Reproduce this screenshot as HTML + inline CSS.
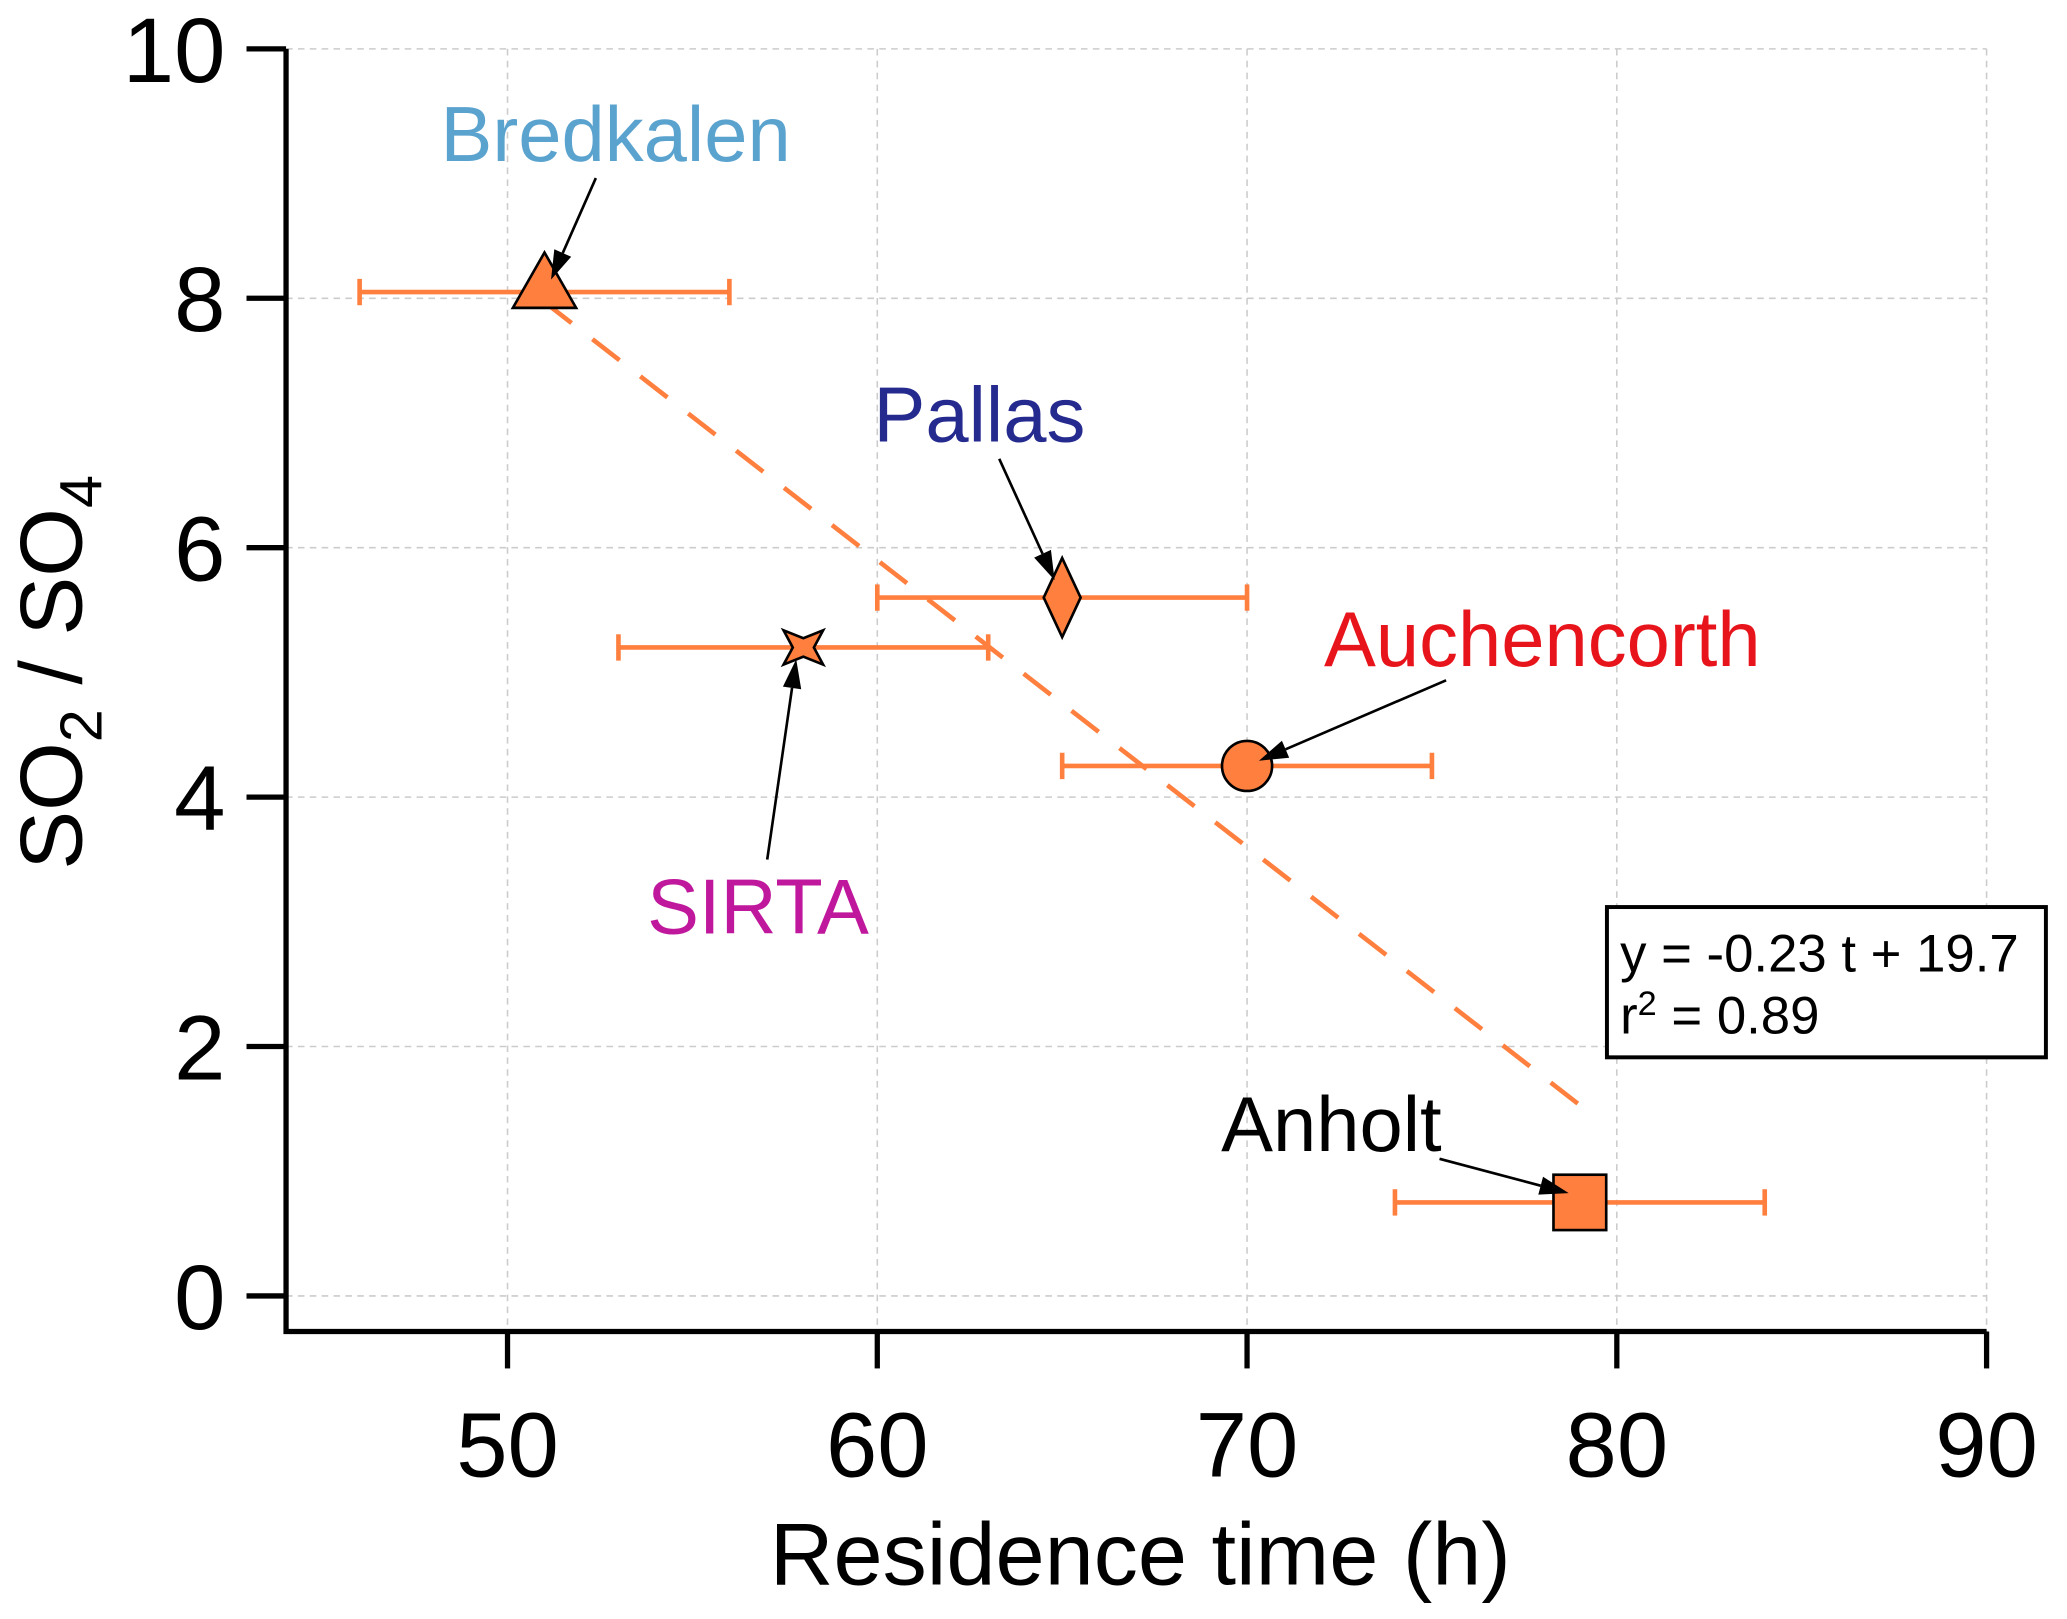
<!DOCTYPE html>
<html><head><meta charset="utf-8"><style>html,body{margin:0;padding:0;background:#fff}svg{display:block}</style></head>
<body>
<svg id="chart" width="2067" height="1619" viewBox="0 0 1568 1228" xmlns="http://www.w3.org/2000/svg" font-family="Liberation Sans, Arial, sans-serif"></svg>
<script>
const sites = ["Bredkalen","Pallas","SIRTA","Auchencorth","Anholt"];
const times = [51,65,58,70,79];
const ratios = [8.05,5.6,5.2,4.25,0.75];
const errLo = [46,60,53,65,74];
const errHi = [56,70,63,75,84];
const markers = ["triangle","diamond","star","circle","square"];
const labelColors = ["#5BA3CF","#252A8F","#C0189D","#E8141B","#000000"];
const xTicks = [50,60,70,80,90];
const yTicks = [0,2,4,6,8,10];
const fitSlope = -0.23, fitIntercept = 19.7, fitStart = 51, fitEnd = 79;

const NS="http://www.w3.org/2000/svg";
const svg=document.getElementById('chart');
const X0=217, XR=1507, YB=1010, YT=37;
const sx=v=>385+(v-50)*(1507-385)/40;
const sy=v=>983-v*(983-37)/10;
function el(tag,attrs,parent){const e=document.createElementNS(NS,tag);for(const k in attrs)e.setAttribute(k,attrs[k]);(parent||svg).appendChild(e);return e;}
const OR="#FF7F3F";

for(const t of xTicks){const g=el('line',{x1:sx(t),x2:sx(t),y1:YT,y2:YB,stroke:'#ccc','stroke-width':1.2,'stroke-dasharray':'5,4'});

}
for(const t of yTicks){const g=el('line',{x1:X0,x2:XR,y1:sy(t),y2:sy(t),stroke:'#ccc','stroke-width':1.2,'stroke-dasharray':'5,4'});

}

const ax=el('path',{d:`M${X0},${YT} L${X0},${YB} L${XR},${YB}`,fill:'none',stroke:'#000','stroke-width':4});


for(const t of xTicks){
 const tk=el('line',{x1:sx(t),x2:sx(t),y1:YB,y2:YB+28,stroke:'#000','stroke-width':4});
 
 
 const tx=el('text',{x:sx(t),y:1120,'font-size':70,'text-anchor':'middle'});tx.textContent=t;
 
 
}
for(const t of yTicks){
 const tk=el('line',{x1:X0-30,x2:X0,y1:sy(t),y2:sy(t),stroke:'#000','stroke-width':4});
 
 
 const tx=el('text',{x:X0-46,y:sy(t)+25,'font-size':70,'text-anchor':'end'});tx.textContent=t;
 
 
}
const xt=el('text',{x:865,y:1202,'font-size':67,'text-anchor':'middle'});xt.textContent='Residence time (h)';


const yt=el('text',{transform:'translate(62,510) rotate(-90)','font-size':67,'text-anchor':'middle'});
yt.innerHTML='SO<tspan font-size="45" dy="15">2</tspan><tspan dy="-15"> / SO</tspan><tspan font-size="45" dy="15">4</tspan>';



const fl=el('line',{x1:sx(fitStart),y1:sy(fitSlope*fitStart+fitIntercept),x2:sx(fitEnd),y2:sy(fitSlope*fitEnd+fitIntercept),stroke:OR,'stroke-width':3.5,'stroke-dasharray':'26,20'});



sites.forEach((s,i)=>{
 const y=sy(ratios[i]);
 const g=el('g',{});
 
 
 el('line',{x1:sx(errLo[i]),x2:sx(errHi[i]),y1:y,y2:y,stroke:OR,'stroke-width':3.5},g);
 el('line',{x1:sx(errLo[i]),x2:sx(errLo[i]),y1:y-10,y2:y+10,stroke:OR,'stroke-width':3.5},g);
 el('line',{x1:sx(errHi[i]),x2:sx(errHi[i]),y1:y-10,y2:y+10,stroke:OR,'stroke-width':3.5},g);
 const x=sx(times[i]);let m;
 const st={fill:OR,stroke:'#000','stroke-width':2};
 if(markers[i]==='triangle') m=el('polygon',Object.assign({points:`${x},${y-30} ${x-24},${y+12} ${x+24},${y+12}`},st));
 else if(markers[i]==='diamond') m=el('polygon',Object.assign({points:`${x},${y-30} ${x+14},${y} ${x},${y+30} ${x-14},${y}`},st));
 else if(markers[i]==='star') m=el('polygon',Object.assign({points:`${x-15},${y-13} ${x},${y-7} ${x+15},${y-13} ${x+8},${y} ${x+15},${y+13} ${x},${y+7} ${x-15},${y+13} ${x-8},${y}`},st));
 else if(markers[i]==='circle') m=el('circle',Object.assign({cx:x,cy:y,r:19},st));
 else m=el('rect',Object.assign({x:x-20,y:y-21,width:40,height:42},st));
 
 
});

const labelPos=[[467,122],[743,335],[575,708],[1170,505],[1010,873]];
const arrowFrom=[[452,135],[758,348],[582,652],[1097,516],[1092,879]];
const arrowTo=[[418,212],[800,440],[604,500],[955,577],[1190,905]];
sites.forEach((s,i)=>{
 const t=el('text',{x:labelPos[i][0],y:labelPos[i][1],'font-size':59,'text-anchor':'middle',fill:labelColors[i]});t.textContent=s;
 
 
 const [x1,y1]=arrowFrom[i],[x2,y2]=arrowTo[i];
 const dx=x2-x1,dy=y2-y1,L=Math.hypot(dx,dy),ux=dx/L,uy=dy/L;
 const bx=x2-ux*22,by=y2-uy*22;
 const a=el('g',{});
 
 
 el('line',{x1,y1,x2:bx,y2:by,stroke:'#000','stroke-width':2},a);
 el('polygon',{points:`${x2},${y2} ${bx-uy*7},${by+ux*7} ${bx+uy*7},${by-ux*7}`,fill:'#000'},a);
});

const bx=el('rect',{x:1219,y:688,width:333,height:114,fill:'#fff',stroke:'#000','stroke-width':3});


const e1=el('text',{x:1229,y:737,'font-size':40});e1.textContent='y = -0.23 t + 19.7';


const e2=el('text',{x:1229,y:784,'font-size':40});e2.innerHTML='r<tspan font-size="26" dy="-14">2</tspan><tspan dy="14"> = 0.89</tspan>';


</script>
</body></html>
